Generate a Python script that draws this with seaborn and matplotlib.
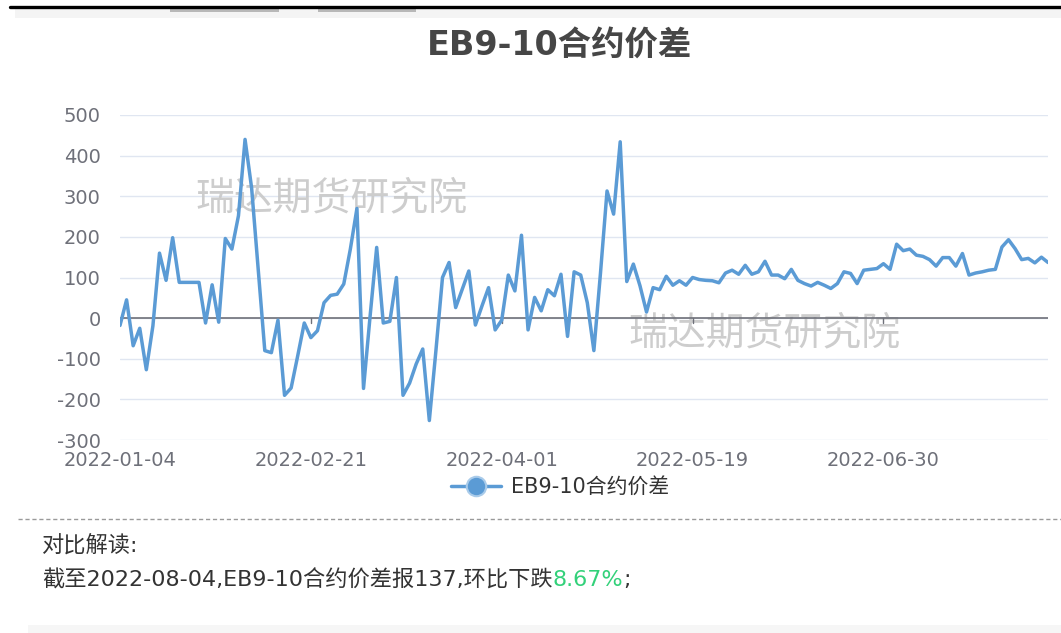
import pandas as pd
import matplotlib
matplotlib.use("Agg")
import matplotlib.pyplot as plt
from matplotlib.lines import Line2D
from matplotlib.patches import Rectangle
import seaborn as sns

W, H = 1061, 633

# trading days of 2022-01-04 .. 2022-08-04, exchange holidays taken out
holidays = ['2022-01-31', '2022-02-01', '2022-02-02', '2022-02-03', '2022-02-04',
            '2022-04-04', '2022-04-05', '2022-05-02', '2022-05-03', '2022-05-04',
            '2022-06-03']
dates = pd.bdate_range('2022-01-04', '2022-08-04').drop(pd.to_datetime(holidays))

spread = [
    -18, 45, -68, -25, -127, -19, 160, 93, 198, 88,
    88, 88, 88, -12, 82, -10, 196, 170, 252, 440,
    320, 120, -80, -85, -5, -190, -172, -93, -12, -48,
    -31, 38, 56, 59, 84, 170, 270, -173, 5, 174,
    -12, -8, 100, -190, -160, -113, -76, -252, -80, 100,
    137, 26, 71, 116, -17, 30, 75, -29, -5, 106,
    67, 204, -29, 51, 18, 70, 55, 108, -45, 114,
    106, 38, -80, 110, 313, 256, 434, 90, 133, 80,
    15, 75, 70, 103, 81, 92, 81, 100, 95, 93,
    92, 87, 111, 118, 108, 130, 108, 114, 140, 106,
    106, 97, 120, 93, 85, 79, 88, 81, 73, 85,
    114, 110, 85, 118, 120, 122, 134, 120, 182, 166,
    170, 155, 152, 144, 128, 149, 149, 128, 159, 106,
    111, 114, 118, 120, 175, 193, 171, 144, 147, 136,
    150, 137,
]

series_name = 'EB9-10合约价差'
y_ticks = [-300, -200, -100, 0, 100, 200, 300, 400, 500]
label_step = 29
watermark = '瑞达期货研究院'
note_title = '对比解读:'
note_parts = ['截至2022-08-04,EB9-10合约价差报137,环比下跌', '8.67%', ';']

LINE = '#5b9bd5'
GRID = '#e0e6f1'
AXIS = '#6e7079'
CJK = ['DejaVu Sans', 'Noto Sans CJK SC']


def fx(px):
    return px / W


def fy(py):
    return 1 - py / H


df = pd.DataFrame({'date': dates.strftime('%Y-%m-%d'),
                   'idx': range(len(spread)),
                   'spread': spread})

sns.set_theme(style='white')
plt.rcParams['font.family'] = CJK
plt.rcParams['axes.unicode_minus'] = False

fig = plt.figure(figsize=(W / 100, H / 100), dpi=100)
ax = fig.add_axes([fx(120), fy(440), fx(1048) - fx(120), fy(115) - fy(440)])

sns.lineplot(data=df, x='idx', y='spread', ax=ax, color=LINE, linewidth=2.5,
             legend=False, zorder=3)

ax.set_xlim(0, len(spread) - 1)
ax.set_ylim(-300, 500)
ax.set_yticks(y_ticks)
ax.yaxis.grid(True, color=GRID, linewidth=1)
ax.set_axisbelow(True)
for s in ax.spines.values():
    s.set_visible(False)
ax.axhline(0, color=AXIS, linewidth=1.2, zorder=2)

tick_idx = df['idx'][::label_step]
ax.set_xticks(tick_idx)
ax.set_xticklabels(df['date'][::label_step])
for t in tick_idx:
    ax.plot([t, t], [0, -12], color=AXIS, linewidth=1, zorder=2)
ax.tick_params(axis='both', length=0, labelsize=14, labelcolor=AXIS)
ax.tick_params(axis='y', pad=14)
ax.tick_params(axis='x', pad=8)
ax.set_xlabel('')
ax.set_ylabel('')

# watermarks
for px, py in [(195, 198), (628, 333)]:
    ax.text(fx(px), fy(py), watermark, transform=fig.transFigure, fontsize=28,
            color='#c8c8c8', alpha=0.9, va='center', ha='left', zorder=1,
            family=['Noto Sans CJK SC'])

fig.text(fx(560), fy(45), series_name, ha='center', va='center', fontsize=24,
         fontweight='bold', color='#464646')

handle = Line2D([0], [0], color=LINE, linewidth=2.5, marker='o', markersize=14,
                markerfacecolor=LINE, markeredgecolor='#a9cbea', markeredgewidth=1.5)
fig.legend([handle], [series_name], loc='center', bbox_to_anchor=(fx(560), fy(487)),
           frameon=False, handlelength=2.4, handletextpad=0.5,
           prop={'family': CJK, 'size': 15}, labelcolor='#333333')

# page decoration around the chart
fig.add_artist(Line2D([fx(10), 1], [fy(7), fy(7)], color='black', linewidth=2.4))
fig.add_artist(Rectangle((fx(15), fy(18)), 1 - fx(15), fy(9) - fy(18),
                         transform=fig.transFigure, color='#f4f4f4', lw=0))
for x0, x1 in [(170, 279), (318, 416)]:
    fig.add_artist(Rectangle((fx(x0), fy(12)), fx(x1) - fx(x0), fy(9) - fy(12),
                             transform=fig.transFigure, color='#b8b8b8', lw=0))
fig.add_artist(Rectangle((fx(28), 0), 1 - fx(28), fy(625),
                         transform=fig.transFigure, color='#f6f6f6', lw=0))
fig.add_artist(Line2D([fx(18), 1], [fy(519), fy(519)], color='#9a9a9a',
                      linewidth=1, linestyle=(0, (3, 2))))

fig.text(fx(42), fy(545), note_title, ha='left', va='center', fontsize=16, color='#333333')

fig.canvas.draw()
renderer = fig.canvas.get_renderer()
x = fx(42)
for part, col in zip(note_parts, ['#333333', '#33d17a', '#333333']):
    t = fig.text(x, fy(580), part, ha='left', va='center', fontsize=16, color=col)
    x = t.get_window_extent(renderer).x1 / W

fig.savefig('out.png', dpi=100)
plt.close(fig)
